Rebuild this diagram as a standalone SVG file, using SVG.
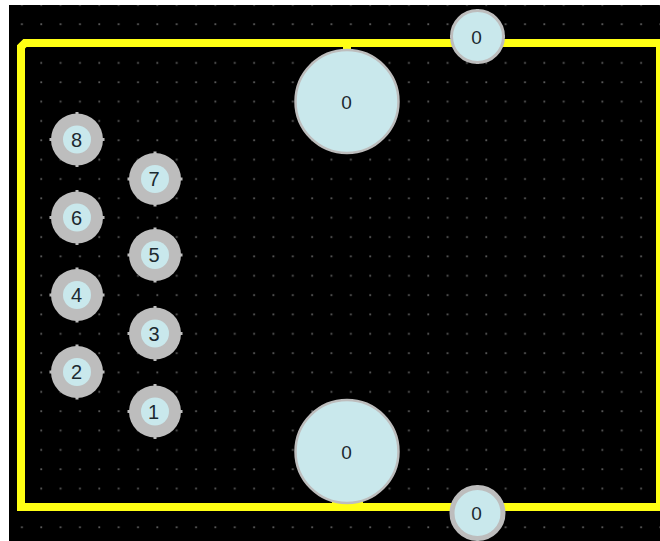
<svg xmlns="http://www.w3.org/2000/svg" width="660" height="541" viewBox="0 0 660 541">
<style>
.ring{fill:#bdbdbd}
.core{fill:#c9e8ec}
.bigring{fill:#c9e8ec;stroke:#bdbdbd}
.nub{fill:#bdbdbd}
.lbl{font-family:"Liberation Sans",Arial,sans-serif;font-size:20px;fill:#1c2a30;text-anchor:middle;dominant-baseline:central}
.big{font-size:19px}
.trace{fill:none;stroke:#ffff14;stroke-width:8;stroke-linejoin:miter}
</style>
<defs>
<pattern id="grid" x="12" y="14.300" width="19.350" height="19.350" patternUnits="userSpaceOnUse">
<rect x="9" y="9" width="1.800" height="1.800" fill="#5c5c5c"/>
</pattern>
<path id="n28" class="nub" d="M-1.500 -27.500H1.500V27.500H-1.500ZM-27.500 -1.500H27.500V1.500H-27.500Z"/>
<path id="n54" class="nub" d="M-4 -53.500H4V53.500H-4ZM-53.500 -4H53.500V4H-53.500Z"/>
</defs>
<rect width="660" height="541" fill="#fff"/>
<rect x="9" y="5" width="651" height="536" fill="#000"/>
<rect x="9" y="5" width="651" height="536" fill="url(#grid)"/>
<g id="connectors">
<path class="trace" d="M660 43H25L21 47V507H660"/>
<rect x="656" y="47" width="4" height="456" fill="#ffff14"/>
<rect x="343" y="47" width="8" height="5" fill="#ffff14"/>
<rect x="332" y="498" width="31" height="6" fill="#ffff14"/>
</g>
<g id="pad-8"><use href="#n28" x="77" y="139.500"/><circle class="ring" cx="77" cy="139.500" r="26"/><circle class="core" cx="77" cy="139.500" r="14"/><text class="lbl" x="76.500" y="139.500">8</text></g>
<g id="pad-7"><use href="#n28" x="155" y="179"/><circle class="ring" cx="155" cy="179" r="26"/><circle class="core" cx="155" cy="179" r="14"/><text class="lbl" x="154" y="179">7</text></g>
<g id="pad-6"><use href="#n28" x="77" y="217.500"/><circle class="ring" cx="77" cy="217.500" r="26"/><circle class="core" cx="77" cy="217.500" r="14"/><text class="lbl" x="76.500" y="217.500">6</text></g>
<g id="pad-5"><use href="#n28" x="155" y="255"/><circle class="ring" cx="155" cy="255" r="26"/><circle class="core" cx="155" cy="255" r="14"/><text class="lbl" x="154" y="255">5</text></g>
<g id="pad-4"><use href="#n28" x="77" y="295"/><circle class="ring" cx="77" cy="295" r="26"/><circle class="core" cx="77" cy="295" r="14"/><text class="lbl" x="76.500" y="295">4</text></g>
<g id="pad-3"><use href="#n28" x="155" y="333.500"/><circle class="ring" cx="155" cy="333.500" r="26"/><circle class="core" cx="155" cy="333.500" r="14"/><text class="lbl" x="154" y="333.500">3</text></g>
<g id="pad-2"><use href="#n28" x="77" y="372"/><circle class="ring" cx="77" cy="372" r="26"/><circle class="core" cx="77" cy="372" r="14"/><text class="lbl" x="76.500" y="372">2</text></g>
<g id="pad-1"><use href="#n28" x="155" y="411.500"/><circle class="ring" cx="155" cy="411.500" r="26"/><circle class="core" cx="155" cy="411.500" r="14"/><text class="lbl" x="153.500" y="411.500">1</text></g>
<g id="hole-top"><circle class="bigring" cx="347" cy="101.500" r="51.500" stroke-width="2.500"/><text class="lbl big" x="346.500" y="102">0</text></g>
<g id="hole-bottom"><circle class="bigring" cx="347" cy="451.500" r="51.500" stroke-width="2.500"/><text class="lbl big" x="346.500" y="452">0</text></g>
<g id="via-top"><use href="#n28" x="477.500" y="36.500"/><circle class="bigring" cx="477.500" cy="36.500" r="26" stroke-width="3"/><text class="lbl big" x="476.500" y="37">0</text></g>
<g id="via-bottom"><use href="#n28" x="477.500" y="513"/><circle class="bigring" cx="477.500" cy="513" r="25.500" stroke-width="5"/><text class="lbl big" x="476.500" y="513.500">0</text></g>
</svg>
